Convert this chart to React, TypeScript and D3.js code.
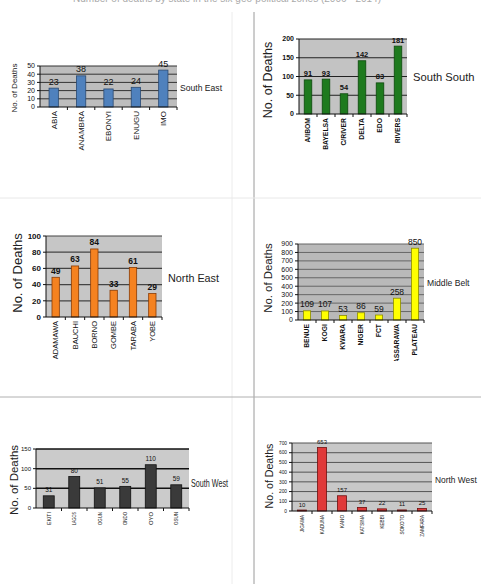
import * as d3 from "d3";

const SE_STATES = ["ABIA", "ANAMBRA", "EBONYI", "ENUGU", "IMO"];
const SE_DEATHS = [23, 38, 22, 24, 45];

const SS_STATES = ["A/IBOM", "BAYELSA", "C/RIVER", "DELTA", "EDO", "RIVERS"];
const SS_DEATHS = [91, 93, 54, 142, 83, 181];

const NE_STATES = ["ADAMAWA", "BAUCHI", "BORNO", "GOMBE", "TARABA", "YOBE"];
const NE_DEATHS = [49, 63, 84, 33, 61, 29];

const MB_STATES = ["BENUE", "KOGI", "KWARA", "NIGER", "FCT", "NASSARAWA", "PLATEAU"];
const MB_DEATHS = [109, 107, 53, 86, 59, 258, 850];

const SW_STATES = ["EKITI", "LAGOS", "OGUN", "ONDO", "OYO", "OSUN"];
const SW_DEATHS = [31, 80, 51, 55, 110, 59];

const NW_STATES = ["JIGAWA", "KADUNA", "KANO", "KATSINA", "KEBBI", "SOKOTO", "ZAMFARA"];
const NW_DEATHS = [10, 653, 157, 37, 22, 11, 25];

const Y_TITLE = "No. of Deaths";

interface Panel {
  zone: string;
  states: string[];
  values: number[];
  yMax: number;
  step: number;
  // layout
  x0: number;
  x1: number;
  top: number;
  bottom: number;
  barFrac: number;
  fill: string;
  stroke: string;
  bg: string;
  grid: string;
  gridW: number;
  tickSize: number;
  tickBold: boolean;
  catSize: number;
  catBold: boolean;
  catLen?: number;
  valSize: number;
  valBold: boolean;
  yTitleX: number;
  yTitleY: number;
  yTitleSize: number;
  yTitleLen?: number;
  zoneX: number;
  zoneY: number;
  zoneSize: number;
  zoneLen?: number;
  clip?: string;
}

const PANELS: Panel[] = [
  {
    zone: "South East", states: SE_STATES, values: SE_DEATHS, yMax: 50, step: 10,
    x0: 40, x1: 177, top: 66, bottom: 107, barFrac: 0.34,
    fill: "#4f81bd", stroke: "#2a4a72", bg: "#bdbdbd", grid: "#333", gridW: 1,
    tickSize: 7, tickBold: false, catSize: 8, catBold: false, valSize: 9, valBold: false,
    yTitleX: 17, yTitleY: 88, yTitleSize: 8, zoneX: 180, zoneY: 91, zoneSize: 8.6,
  },
  {
    zone: "South South", states: SS_STATES, values: SS_DEATHS, yMax: 200, step: 50,
    x0: 299, x1: 407, top: 39, bottom: 114, barFrac: 0.42,
    fill: "#1e7a1e", stroke: "#0e4a0e", bg: "#c3c3c3", grid: "#222", gridW: 1,
    tickSize: 7, tickBold: true, catSize: 6.8, catBold: true, valSize: 7.5, valBold: true,
    yTitleX: 272, yTitleY: 80, yTitleSize: 12.5, zoneX: 413, zoneY: 81, zoneSize: 11.2,
  },
  {
    zone: "North East", states: NE_STATES, values: NE_DEATHS, yMax: 100, step: 20,
    x0: 46, x1: 162, top: 236, bottom: 317, barFrac: 0.38,
    fill: "#f58220", stroke: "#8a3c05", bg: "#c6c6c6", grid: "#444", gridW: 1.2,
    tickSize: 8, tickBold: true, catSize: 7.5, catBold: false, valSize: 8.5, valBold: true,
    yTitleX: 22, yTitleY: 273, yTitleSize: 13, zoneX: 168, zoneY: 282, zoneSize: 10.8,
    clip: "clipMid",
  },
  {
    zone: "Middle Belt", states: MB_STATES, values: MB_DEATHS, yMax: 900, step: 100,
    x0: 298, x1: 424, top: 244, bottom: 320, barFrac: 0.4,
    fill: "#ffff00", stroke: "#8c8c00", bg: "#b9b9b9", grid: "#666", gridW: 1,
    tickSize: 7, tickBold: false, catSize: 6.8, catBold: true, valSize: 8.5, valBold: false,
    yTitleX: 272, yTitleY: 278, yTitleSize: 11.4, zoneX: 427, zoneY: 286, zoneSize: 8.6,
    clip: "clipMid",
  },
  {
    zone: "South West", states: SW_STATES, values: SW_DEATHS, yMax: 150, step: 50,
    x0: 36, x1: 189, top: 449, bottom: 508, barFrac: 0.43,
    fill: "#3a3a3a", stroke: "#111", bg: "#cbcbcb", grid: "#111", gridW: 1.5,
    tickSize: 6, tickBold: false, catSize: 6, catBold: false, catLen: 13, valSize: 6.5, valBold: false,
    yTitleX: 18, yTitleY: 480, yTitleSize: 11, yTitleLen: 70,
    zoneX: 191, zoneY: 487, zoneSize: 11, zoneLen: 37,
  },
  {
    zone: "North West", states: NW_STATES, values: NW_DEATHS, yMax: 700, step: 100,
    x0: 292, x1: 432, top: 443, bottom: 511, barFrac: 0.45,
    fill: "#e03a3a", stroke: "#6e1010", bg: "#c8c8c8", grid: "#555", gridW: 1,
    tickSize: 4.8, tickBold: false, catSize: 4.6, catBold: false, valSize: 6, valBold: false,
    yTitleX: 273, yTitleY: 476, yTitleSize: 10.6, zoneX: 435, zoneY: 483, zoneSize: 8.4,
  },
];

const FONT = "'Liberation Sans', Arial, sans-serif";

function BarPanel({ p }: { p: Panel }) {
  const x = d3.scaleBand<string>().domain(p.states).range([p.x0, p.x1]);
  const y = d3.scaleLinear().domain([0, p.yMax]).range([p.bottom, p.top]);
  const ticks = d3.range(0, p.yMax + p.step / 2, p.step);
  const bw = x.bandwidth() * p.barFrac;

  return (
    <g clipPath={p.clip ? `url(#${p.clip})` : undefined} fontFamily={FONT}>
      <rect x={p.x0} y={p.top} width={p.x1 - p.x0} height={p.bottom - p.top} fill={p.bg} />
      {ticks.slice(1).map((t) => (
        <line key={t} x1={p.x0} x2={p.x1} y1={y(t)} y2={y(t)} stroke={p.grid} strokeWidth={p.gridW} />
      ))}
      {p.states.map((s, i) => {
        const v = p.values[i];
        const cx = (x(s) ?? 0) + x.bandwidth() / 2;
        return (
          <g key={s}>
            <rect x={cx - bw / 2} y={y(v)} width={bw} height={p.bottom - y(v)} fill={p.fill} stroke={p.stroke} strokeWidth={0.8} />
            <text x={cx} y={y(v) - 3.5} textAnchor="middle" fontSize={p.valSize} fontWeight={p.valBold ? "bold" : "normal"} fill="#111">
              {v}
            </text>
            <text
              transform={`translate(${cx},${p.bottom + 4}) rotate(-90)`}
              textAnchor="end"
              dy="0.35em"
              fontSize={p.catSize}
              fontWeight={p.catBold ? "bold" : "normal"}
              fill="#111"
              textLength={p.catLen}
              lengthAdjust={p.catLen ? "spacingAndGlyphs" : undefined}
            >
              {s}
            </text>
          </g>
        );
      })}
      {/* y axis */}
      <line x1={p.x0} x2={p.x0} y1={p.top} y2={p.bottom} stroke="#111" strokeWidth={1} />
      {ticks.map((t) => (
        <g key={t}>
          <line x1={p.x0 - 3} x2={p.x0} y1={y(t)} y2={y(t)} stroke="#111" />
          <text x={p.x0 - 5} y={y(t)} dy="0.35em" textAnchor="end" fontSize={p.tickSize} fontWeight={p.tickBold ? "bold" : "normal"} fill="#111">
            {t}
          </text>
        </g>
      ))}
      {/* x axis */}
      <line x1={p.x0} x2={p.x1} y1={p.bottom} y2={p.bottom} stroke="#111" strokeWidth={1} />
      {p.states.map((s) => (
        <line key={s} x1={(x(s) ?? 0) + x.bandwidth()} x2={(x(s) ?? 0) + x.bandwidth()} y1={p.bottom} y2={p.bottom + 3} stroke="#111" />
      ))}
      <text
        transform={`translate(${p.yTitleX},${p.yTitleY}) rotate(-90)`}
        textAnchor="middle"
        fontSize={p.yTitleSize}
        fill="#222"
        textLength={p.yTitleLen}
        lengthAdjust={p.yTitleLen ? "spacingAndGlyphs" : undefined}
      >
        {Y_TITLE}
      </text>
      <text x={p.zoneX} y={p.zoneY} fontSize={p.zoneSize} fill="#222" textLength={p.zoneLen} lengthAdjust={p.zoneLen ? "spacingAndGlyphs" : undefined}>
        {p.zone}
      </text>
    </g>
  );
}

export default function App() {
  return (
    <svg width={481} height={584} style={{ position: "absolute", left: 0, top: 0, background: "#fff" }}>
      <defs>
        <clipPath id="clipMid">
          <rect x={0} y={199} width={481} height={162} />
        </clipPath>
      </defs>
      <text x={227} y={2} textAnchor="middle" fontSize={10} fill="#aaa" fontFamily={FONT}>
        Number of deaths by state in the six geo-political zones (2006 - 2014)
      </text>
      {/* page grid */}
      <line x1={254} x2={254} y1={12} y2={584} stroke="#9a9a9a" />
      <line x1={232} x2={232} y1={12} y2={584} stroke="#ececec" />
      <line x1={0} x2={481} y1={198} y2={198} stroke="#e8e8e8" />
      <line x1={0} x2={481} y1={397} y2={397} stroke="#b0b0b0" />
      {PANELS.map((p) => (
        <BarPanel key={p.zone} p={p} />
      ))}
    </svg>
  );
}
